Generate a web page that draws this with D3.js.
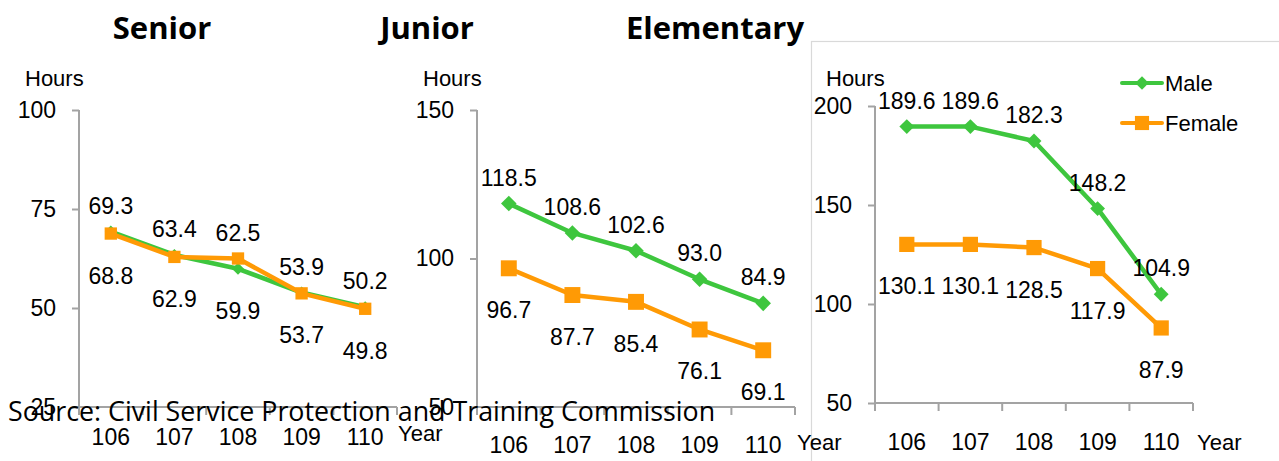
<!DOCTYPE html>
<html>
<head>
<meta charset="utf-8">
<script src="https://cdn.jsdelivr.net/npm/d3@7"></script>
<style>
  html, body { margin: 0; padding: 0; background: #fff; }
  svg { display: block; }
  .num { font-family: "Liberation Sans", Arial, sans-serif; fill: #000; }
  .title { font-family: "Open Sans", "Noto Sans", sans-serif; font-weight: 700; fill: #000; }
</style>
</head>
<body>
<svg id="chart" width="1279" height="461"></svg>
<script>
// Training hours per year, by school level and gender
const years = ["106", "107", "108", "109", "110"];

const seniorMale   = [69.3, 63.4, 59.9, 53.9, 50.2];
const seniorFemale = [68.8, 62.9, 62.5, 53.7, 49.8];

const juniorMale   = [118.5, 108.6, 102.6, 93.0, 84.9];
const juniorFemale = [96.7, 87.7, 85.4, 76.1, 69.1];

const elementaryMale   = [189.6, 189.6, 182.3, 148.2, 104.9];
const elementaryFemale = [130.1, 130.1, 128.5, 117.9, 87.9];

const seniorTicks = [25, 50, 75, 100];
const juniorTicks = [50, 100, 150];
const elementaryTicks = [50, 100, 150, 200];

const seriesNames = ["Male", "Female"];
const panelTitles = ["Senior", "Junior", "Elementary"];
const unitLabel = "Hours";
const yearLabel = "Year";
const sourceNote = "Source: Civil Service Protection and Training Commission";

const GREEN = "#3ec63e";
const ORANGE = "#ff9a05";
const AXIS = "#a3a3a3";

const svg = d3.select("#chart");

// frame around the elementary panel
svg.append("rect")
  .attr("x", 811.5).attr("y", 41.5)
  .attr("width", 500).attr("height", 500)
  .attr("fill", "none").attr("stroke", "#d9d9d9").attr("stroke-width", 1.2);

const panels = [
  { title: panelTitles[0], titleX: 162, x0: 79,  top: 110, bottom: 407,
    domain: [25, 100], ticks: seniorTicks, male: seniorMale, female: seniorFemale,
    catDy: 30, yearX: 398, yearY: 441, hoursX: 25, marker: 0.85 },
  { title: panelTitles[1], titleX: 427, x0: 477, top: 110, bottom: 407,
    domain: [50, 150], ticks: juniorTicks, male: juniorMale, female: juniorFemale,
    catDy: 38, yearX: 797, yearY: 450, hoursX: 423, marker: 1.1 },
  { title: panelTitles[2], titleX: 715, x0: 875, top: 106, bottom: 403,
    domain: [50, 200], ticks: elementaryTicks, male: elementaryMale, female: elementaryFemale,
    catDy: 39, yearX: 1197, yearY: 450, hoursX: 826, marker: 1.05 }
];

const plotW = 318;

panels.forEach(p => {
  const g = svg.append("g");

  // panel title
  svg.append("text").attr("class", "title")
    .attr("x", p.titleX).attr("y", 39)
    .attr("text-anchor", "middle")
    .attr("font-size", 31)
    .text(p.title);

  const x = d3.scaleBand().domain(years).range([p.x0, p.x0 + plotW]);
  const y = d3.scaleLinear().domain(p.domain).range([p.bottom, p.top]);

  // y axis
  const yAxis = g.append("g")
    .attr("transform", `translate(${p.x0},0)`)
    .call(d3.axisLeft(y).tickValues(p.ticks).tickSize(7).tickPadding(16).tickFormat(d3.format("d")));
  yAxis.select(".domain").attr("stroke", AXIS).attr("stroke-width", 2)
    .attr("d", `M0,${p.top}V${p.bottom}`);
  yAxis.selectAll(".tick line").attr("stroke", AXIS).attr("stroke-width", 2);
  yAxis.selectAll(".tick text").attr("class", "num").attr("font-size", 23)
    .attr("fill", "#000").attr("font-family", "Liberation Sans, Arial, sans-serif");

  // x axis with tick marks on band boundaries
  const xAxis = g.append("g").attr("transform", `translate(0,${p.bottom})`);
  xAxis.append("path")
    .attr("d", `M${p.x0},0H${p.x0 + plotW}`)
    .attr("stroke", AXIS).attr("stroke-width", 2).attr("fill", "none");
  const bounds = years.map(d => x(d)).concat([p.x0 + plotW]);
  xAxis.selectAll("line.tk").data(bounds).join("line")
    .attr("x1", d => d).attr("x2", d => d)
    .attr("y1", 0).attr("y2", 8)
    .attr("stroke", AXIS).attr("stroke-width", 2);
  xAxis.selectAll("text.cat").data(years).join("text")
    .attr("class", "num cat")
    .attr("x", d => x(d) + x.bandwidth() / 2)
    .attr("y", p.catDy + 8)
    .attr("text-anchor", "middle")
    .attr("font-size", 23)
    .text(d => d);

  // unit and year labels
  g.append("text").attr("class", "num")
    .attr("x", p.hoursX).attr("y", 86).attr("font-size", 22).text(unitLabel);
  g.append("text").attr("class", "num")
    .attr("x", p.yearX).attr("y", p.yearY).attr("font-size", 22).text(yearLabel);

  const cx = i => x(years[i]) + x.bandwidth() / 2;
  const line = d3.line().x((d, i) => cx(i)).y(d => y(d));

  const series = [
    { values: p.male, color: GREEN, shape: "diamond" },
    { values: p.female, color: ORANGE, shape: "square" }
  ];

  series.forEach(s => {
    g.append("path").datum(s.values)
      .attr("d", line)
      .attr("fill", "none").attr("stroke", s.color)
      .attr("stroke-width", 4.5).attr("stroke-linejoin", "round");
  });
  series.forEach(s => {
    const sym = s.shape === "diamond"
      ? d3.symbol().type(d3.symbolSquare).size(100 * p.marker * p.marker)
      : d3.symbol().type(d3.symbolSquare).size(210 * p.marker * p.marker);
    g.selectAll(null).data(s.values).join("path")
      .attr("d", sym)
      .attr("transform", (d, i) => `translate(${cx(i)},${y(d)})` + (s.shape === "diamond" ? " rotate(45)" : ""))
      .attr("fill", s.color);
  });

  // value labels: the higher series at each year is labelled above, the other below
  years.forEach((yr, i) => {
    const m = p.male[i], f = p.female[i];
    const pairs = [[m, m >= f], [f, f > m]];
    pairs.forEach(([v, above]) => {
      g.append("text").attr("class", "num")
        .attr("x", cx(i))
        .attr("y", y(v) + (above ? -18 : 50))
        .attr("text-anchor", "middle")
        .attr("font-size", 23)
        .text(v.toFixed(1));
    });
  });
});

// legend
const legend = svg.append("g");
[[GREEN, "diamond", 83], [ORANGE, "square", 123]].forEach(([c, shape, ly], k) => {
  legend.append("line").attr("x1", 1122).attr("x2", 1162).attr("y1", ly).attr("y2", ly)
    .attr("stroke", c).attr("stroke-width", 4).attr("stroke-linecap", "round");
  legend.append("path")
    .attr("d", d3.symbol().type(d3.symbolSquare).size(shape === "diamond" ? 90 : 200)())
    .attr("transform", `translate(1142,${ly})` + (shape === "diamond" ? " rotate(45)" : ""))
    .attr("fill", c);
  legend.append("text").attr("class", "num")
    .attr("x", 1165).attr("y", ly + 8).attr("font-size", 22).text(seriesNames[k]);
});

// source note, drawn last so it sits over the axes
svg.append("text")
  .attr("x", 8).attr("y", 421)
  .attr("font-family", "Open Sans, Noto Sans, sans-serif")
  .attr("font-size", 26.8)
  .attr("fill", "#000")
  .text(sourceNote);
</script>
</body>
</html>
